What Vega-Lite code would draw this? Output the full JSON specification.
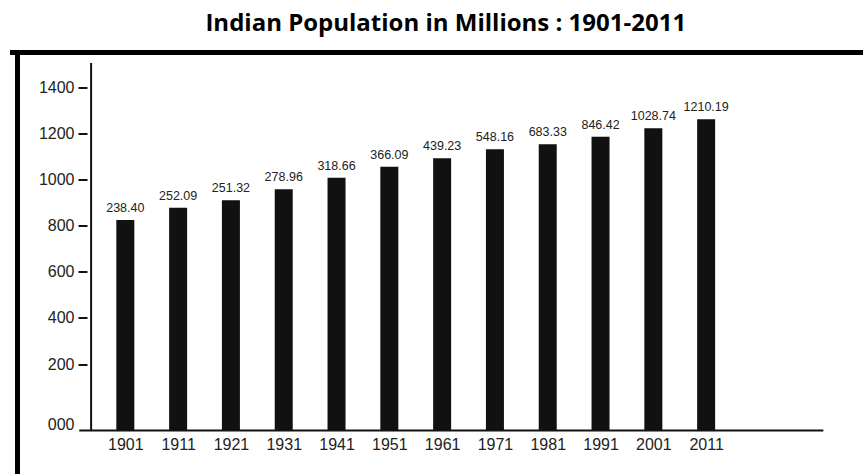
{
  "$schema": "https://vega.github.io/schema/vega-lite/v6.json",
  "width": 850.5,
  "height": 421.5,
  "autosize": {"type": "none"},
  "padding": {"left": 12.5, "top": 52.5, "right": 0, "bottom": 0},
  "background": "white",
  "config": {"view": {"stroke": null}},
  "title": {
    "text": "Indian Population in Millions : 1901-2011",
    "font": "Open Sans",
    "fontSize": 24,
    "fontWeight": "bold",
    "color": "#000",
    "anchor": "middle",
    "offset": 13,
    "dx": 8
  },
  "data": {
    "values": [
      {"year": 1901, "population": 238.40, "bar_height": 824},
      {"year": 1911, "population": 252.09, "bar_height": 877},
      {"year": 1921, "population": 251.32, "bar_height": 909},
      {"year": 1931, "population": 278.96, "bar_height": 957},
      {"year": 1941, "population": 318.66, "bar_height": 1007},
      {"year": 1951, "population": 366.09, "bar_height": 1055},
      {"year": 1961, "population": 439.23, "bar_height": 1091},
      {"year": 1971, "population": 548.16, "bar_height": 1130},
      {"year": 1981, "population": 683.33, "bar_height": 1152},
      {"year": 1991, "population": 846.42, "bar_height": 1185},
      {"year": 2001, "population": 1028.74, "bar_height": 1221},
      {"year": 2011, "population": 1210.19, "bar_height": 1260}
    ]
  },
  "layer": [
    {
      "mark": {"type": "bar", "size": 18, "color": "#111"},
      "encoding": {
        "x": {
          "field": "year",
          "type": "quantitative",
          "scale": {"domain": [1880.58, 2039.76], "nice": false, "zero": false},
          "axis": {
            "values": [1901, 1911, 1921, 1931, 1941, 1951, 1961, 1971, 1981, 1991, 2001, 2011],
            "format": "d",
            "orient": "bottom",
            "offset": -43.5,
            "domain": false,
            "ticks": false,
            "grid": false,
            "labelPadding": 6,
            "labelFont": "Liberation Sans",
            "labelFontSize": 16,
            "labelColor": "#222",
            "labelFlush": false,
            "labelOverlap": false,
            "title": null
          }
        },
        "y": {
          "field": "bar_height",
          "type": "quantitative",
          "scale": {"domain": [-276.4, 1549.6], "nice": false, "zero": false},
          "axis": {
            "values": [-64, 200, 400, 600, 800, 1000, 1200, 1400],
            "format": "d",
            "labelExpr": "datum.value < 0 ? '000' : datum.label",
            "orient": "left",
            "offset": -74.5,
            "domain": false,
            "grid": false,
            "tickSize": 9,
            "tickWidth": 2,
            "tickColor": "#111",
            "tickOpacity": {"condition": {"test": "datum.value < 0", "value": 0}, "value": 1},
            "labelPadding": 4,
            "labelFont": "Liberation Sans",
            "labelFontSize": 16,
            "labelColor": "#222",
            "title": null
          }
        },
        "y2": {"datum": -88}
      }
    },
    {
      "data": {"values": [{}]},
      "mark": {"type": "rule", "color": "#000", "strokeWidth": 5, "strokeCap": "square"},
      "encoding": {"x": {"datum": 1880.58, "type": "quantitative"}}
    },
    {
      "data": {"values": [{}]},
      "mark": {"type": "rule", "color": "#000", "strokeWidth": 5, "strokeCap": "square"},
      "encoding": {"y": {"datum": 1549.6, "type": "quantitative"}}
    },
    {
      "data": {"values": [{}]},
      "mark": {"type": "rule", "color": "#111", "strokeWidth": 2},
      "encoding": {
        "x": {"datum": 1894.52, "type": "quantitative"},
        "y": {"datum": 1504, "type": "quantitative"},
        "y2": {"datum": -88}
      }
    },
    {
      "data": {"values": [{}]},
      "mark": {"type": "rule", "color": "#111", "strokeWidth": 2},
      "encoding": {
        "y": {"datum": -88, "type": "quantitative"},
        "x": {"datum": 1892.28, "type": "quantitative"},
        "x2": {"datum": 2033.2}
      }
    },
    {
      "mark": {"type": "text", "baseline": "bottom", "dy": -5, "font": "Liberation Sans", "fontSize": 12.5, "color": "#222"},
      "encoding": {
        "x": {"field": "year", "type": "quantitative"},
        "y": {"field": "bar_height", "type": "quantitative"},
        "text": {"field": "population", "type": "quantitative", "format": ".2f"}
      }
    }
  ]
}
